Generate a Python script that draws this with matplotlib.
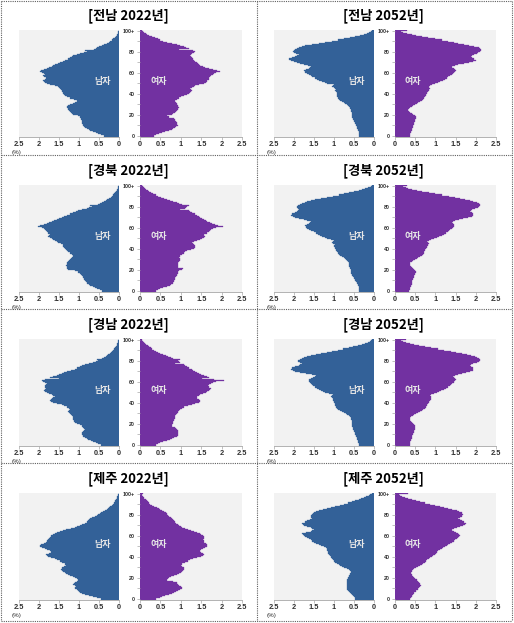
import matplotlib
matplotlib.use('Agg')
import matplotlib.pyplot as plt
from matplotlib.lines import Line2D
from matplotlib.ticker import MultipleLocator

plt.rcParams['font.family'] = ['Noto Sans CJK KR', 'DejaVu Sans']

# ---------------- data ----------------
ages = list(range(101))
regions = ['전남', '경북', '경남', '제주']
years = ['2022', '2052']
age_ticks = [0, 20, 40, 60, 80, 100]
age_tick_labels = ['0', '20', '40', '60', '80', '100+']
x_ticks = [0, 0.5, 1, 1.5, 2, 2.5]
x_tick_labels = ['0', '0.5', '1', '1.5', '2', '2.5']
male_label = '남자'
female_label = '여자'
unit_label = '(%)'

jeonnam_2022_m = [
    0.38, 0.44, 0.52, 0.58, 0.64, 0.72, 0.76, 0.80, 0.85, 0.87,
    0.89, 0.91, 0.92, 0.93, 0.92, 0.93, 0.94, 0.95, 0.97, 1.02,
    1.14, 1.17, 1.19, 1.22, 1.25, 1.27, 1.28, 1.29, 1.30, 1.27,
    1.22, 1.15, 1.10, 1.06, 1.05, 1.12, 1.22, 1.30, 1.35, 1.37,
    1.39, 1.41, 1.42, 1.43, 1.45, 1.47, 1.49, 1.52, 1.60, 1.72,
    1.80, 1.85, 1.88, 1.89, 1.86, 1.83, 1.87, 1.89, 1.86, 1.87,
    1.92, 1.97, 1.95, 1.88, 1.80, 1.74, 1.68, 1.64, 1.60, 1.53,
    1.47, 1.41, 1.35, 1.28, 1.22, 1.18, 1.14, 1.06, 0.97, 0.88,
    0.80, 0.86, 0.62, 0.58, 0.55, 0.49, 0.43, 0.37, 0.31, 0.26,
    0.22, 0.18, 0.14, 0.11, 0.08, 0.06, 0.05, 0.03, 0.02, 0.015, 0.01]
jeonnam_2022_f = [
    0.34, 0.40, 0.47, 0.53, 0.62, 0.72, 0.78, 0.82, 0.86, 0.89,
    0.92, 0.91, 0.90, 0.90, 0.88, 0.87, 0.86, 0.84, 0.72, 0.65,
    0.78, 0.82, 0.85, 0.88, 0.91, 0.94, 0.94, 0.95, 0.94, 0.92,
    0.91, 0.90, 0.88, 0.86, 0.86, 0.90, 0.95, 1.00, 1.07, 1.14,
    1.20, 1.23, 1.26, 1.27, 1.25, 1.23, 1.27, 1.32, 1.36, 1.45,
    1.57, 1.62, 1.64, 1.65, 1.68, 1.70, 1.71, 1.73, 1.78, 1.82,
    1.86, 1.96, 1.88, 1.78, 1.68, 1.60, 1.54, 1.48, 1.45, 1.42,
    1.40, 1.36, 1.32, 1.29, 1.27, 1.25, 1.23, 1.24, 1.27, 1.32,
    1.36, 1.30, 0.96, 1.20, 1.12, 1.07, 0.98, 0.90, 0.78, 0.67,
    0.57, 0.50, 0.43, 0.36, 0.29, 0.23, 0.18, 0.14, 0.11, 0.08, 0.05]
jeonnam_2052_m = [
    0.36, 0.36, 0.37, 0.37, 0.38, 0.39, 0.40, 0.41, 0.42, 0.43,
    0.44, 0.45, 0.46, 0.47, 0.49, 0.50, 0.51, 0.52, 0.54, 0.54,
    0.54, 0.55, 0.55, 0.56, 0.57, 0.58, 0.59, 0.60, 0.61, 0.64,
    0.67, 0.71, 0.75, 0.79, 0.84, 0.88, 0.90, 0.91, 0.92, 0.92,
    0.92, 0.93, 0.95, 0.96, 0.95, 0.96, 0.99, 1.04, 1.02, 1.00,
    1.17, 1.23, 1.29, 1.36, 1.42, 1.48, 1.54, 1.58, 1.62, 1.66,
    1.71, 1.73, 1.75, 1.70, 1.62, 1.60, 1.58, 1.65, 1.75, 1.84,
    1.92, 2.00, 2.08, 2.12, 2.05, 1.96, 1.92, 1.88, 1.94, 2.00,
    2.02, 2.00, 1.96, 1.92, 1.88, 1.80, 1.71, 1.55, 1.38, 1.21,
    1.04, 0.90, 0.75, 0.60, 0.46, 0.35, 0.25, 0.17, 0.11, 0.07, 0.04]
jeonnam_2052_f = [
    0.37, 0.37, 0.38, 0.39, 0.40, 0.41, 0.42, 0.43, 0.44, 0.44,
    0.45, 0.46, 0.47, 0.48, 0.49, 0.50, 0.50, 0.51, 0.51, 0.49,
    0.45, 0.41, 0.37, 0.35, 0.33, 0.33, 0.35, 0.37, 0.41, 0.45,
    0.50, 0.54, 0.58, 0.62, 0.66, 0.70, 0.72, 0.74, 0.76, 0.77,
    0.79, 0.80, 0.82, 0.83, 0.85, 0.87, 0.85, 0.83, 0.86, 0.91,
    0.99, 1.06, 1.12, 1.18, 1.24, 1.28, 1.32, 1.36, 1.40, 1.44,
    1.47, 1.49, 1.50, 1.48, 1.45, 1.42, 1.40, 1.48, 1.57, 1.70,
    1.82, 1.92, 2.00, 1.96, 1.90, 1.89, 1.90, 1.96, 2.02, 2.06,
    2.10, 2.12, 2.13, 2.11, 2.07, 1.96, 1.82, 1.70, 1.57, 1.45,
    1.32, 1.16, 0.99, 0.82, 0.66, 0.52, 0.41, 0.30, 0.21, 0.15, 0.29]
gyeongbuk_2022_m = [
    0.42, 0.48, 0.55, 0.60, 0.66, 0.72, 0.76, 0.79, 0.81, 0.83,
    0.85, 0.87, 0.88, 0.89, 0.91, 0.93, 0.95, 0.97, 1.02, 1.10,
    1.27, 1.29, 1.31, 1.31, 1.32, 1.31, 1.30, 1.29, 1.27, 1.24,
    1.22, 1.20, 1.18, 1.16, 1.14, 1.17, 1.22, 1.27, 1.31, 1.33,
    1.35, 1.37, 1.39, 1.40, 1.39, 1.45, 1.52, 1.56, 1.60, 1.64,
    1.68, 1.73, 1.77, 1.75, 1.72, 1.77, 1.81, 1.83, 1.85, 1.88,
    1.93, 2.03, 1.97, 1.88, 1.81, 1.75, 1.68, 1.62, 1.56, 1.50,
    1.43, 1.37, 1.31, 1.22, 1.14, 1.08, 1.02, 0.92, 0.81, 0.74,
    0.68, 0.72, 0.52, 0.47, 0.43, 0.38, 0.33, 0.29, 0.25, 0.21,
    0.18, 0.15, 0.12, 0.10, 0.08, 0.06, 0.04, 0.03, 0.02, 0.015, 0.01]
gyeongbuk_2022_f = [
    0.38, 0.44, 0.50, 0.57, 0.65, 0.73, 0.77, 0.80, 0.82, 0.83,
    0.84, 0.85, 0.85, 0.86, 0.88, 0.90, 0.91, 0.92, 0.94, 0.96,
    1.02, 1.05, 0.94, 0.93, 0.92, 0.92, 0.93, 0.94, 0.96, 0.97,
    0.98, 0.97, 0.96, 0.97, 0.98, 1.02, 1.07, 1.11, 1.15, 1.24,
    1.32, 1.34, 1.36, 1.34, 1.32, 1.30, 1.27, 1.33, 1.40, 1.46,
    1.52, 1.56, 1.60, 1.58, 1.57, 1.63, 1.69, 1.71, 1.73, 1.80,
    1.86, 2.04, 1.90, 1.83, 1.77, 1.71, 1.65, 1.61, 1.57, 1.52,
    1.48, 1.44, 1.40, 1.34, 1.27, 1.23, 1.19, 0.98, 1.11, 1.13,
    1.15, 1.19, 1.02, 0.96, 0.90, 0.82, 0.73, 0.66, 0.59, 0.51,
    0.44, 0.38, 0.32, 0.28, 0.23, 0.19, 0.15, 0.12, 0.10, 0.07, 0.05]
gyeongbuk_2052_m = [
    0.36, 0.36, 0.37, 0.37, 0.38, 0.39, 0.40, 0.42, 0.43, 0.45,
    0.46, 0.47, 0.49, 0.50, 0.52, 0.54, 0.55, 0.56, 0.57, 0.58,
    0.58, 0.59, 0.60, 0.61, 0.61, 0.62, 0.63, 0.63, 0.64, 0.66,
    0.69, 0.72, 0.75, 0.79, 0.84, 0.88, 0.90, 0.92, 0.94, 0.95,
    0.96, 0.98, 1.00, 0.99, 0.98, 1.01, 1.04, 1.02, 1.00, 1.08,
    1.17, 1.23, 1.29, 1.34, 1.39, 1.44, 1.50, 1.56, 1.62, 1.66,
    1.69, 1.70, 1.71, 1.66, 1.61, 1.59, 1.58, 1.66, 1.75, 1.86,
    1.96, 2.01, 2.06, 2.04, 1.98, 1.92, 1.89, 1.86, 1.89, 1.92,
    1.91, 1.90, 1.85, 1.79, 1.73, 1.67, 1.57, 1.46, 1.32, 1.17,
    1.02, 0.88, 0.75, 0.62, 0.50, 0.38, 0.29, 0.21, 0.14, 0.08, 0.04]
gyeongbuk_2052_f = [
    0.35, 0.36, 0.37, 0.38, 0.39, 0.40, 0.41, 0.41, 0.42, 0.43,
    0.43, 0.44, 0.45, 0.46, 0.47, 0.48, 0.49, 0.50, 0.51, 0.50,
    0.48, 0.45, 0.41, 0.39, 0.38, 0.37, 0.37, 0.38, 0.41, 0.45,
    0.50, 0.54, 0.58, 0.62, 0.66, 0.70, 0.72, 0.73, 0.74, 0.75,
    0.76, 0.78, 0.79, 0.81, 0.82, 0.83, 0.81, 0.79, 0.84, 0.89,
    0.96, 1.03, 1.10, 1.16, 1.21, 1.26, 1.30, 1.34, 1.37, 1.40,
    1.43, 1.45, 1.46, 1.45, 1.43, 1.40, 1.44, 1.49, 1.58, 1.69,
    1.80, 1.90, 1.93, 1.94, 1.90, 1.86, 1.87, 1.90, 1.97, 2.05,
    2.08, 2.10, 2.10, 2.08, 2.02, 1.94, 1.85, 1.74, 1.62, 1.49,
    1.33, 1.16, 1.00, 0.83, 0.68, 0.54, 0.43, 0.33, 0.26, 0.21, 0.29]
gyeongnam_2022_m = [
    0.46, 0.52, 0.58, 0.64, 0.70, 0.77, 0.81, 0.85, 0.89, 0.91,
    0.93, 0.93, 0.93, 0.90, 0.87, 0.85, 0.88, 0.90, 0.93, 0.98,
    1.06, 1.09, 1.12, 1.13, 1.14, 1.14, 1.15, 1.16, 1.18, 1.20,
    1.22, 1.24, 1.27, 1.25, 1.22, 1.26, 1.31, 1.37, 1.43, 1.54,
    1.64, 1.69, 1.72, 1.70, 1.68, 1.64, 1.60, 1.64, 1.68, 1.75,
    1.81, 1.84, 1.87, 1.85, 1.83, 1.84, 1.85, 1.83, 1.81, 1.85,
    1.89, 1.93, 1.85, 1.50, 1.72, 1.64, 1.56, 1.50, 1.43, 1.37,
    1.31, 1.20, 1.10, 1.04, 0.98, 0.92, 0.85, 0.75, 0.64, 0.58,
    0.52, 0.56, 0.42, 0.38, 0.33, 0.30, 0.27, 0.23, 0.20, 0.17,
    0.14, 0.12, 0.10, 0.08, 0.06, 0.05, 0.04, 0.03, 0.02, 0.015, 0.01]
gyeongnam_2022_f = [
    0.38, 0.44, 0.50, 0.57, 0.65, 0.73, 0.79, 0.84, 0.90, 0.92,
    0.94, 0.94, 0.94, 0.93, 0.92, 0.90, 0.88, 0.85, 0.78, 0.79,
    0.82, 0.82, 0.82, 0.83, 0.84, 0.86, 0.86, 0.86, 0.86, 0.88,
    0.90, 0.92, 0.94, 0.96, 0.98, 1.02, 1.07, 1.17, 1.27, 1.36,
    1.44, 1.46, 1.48, 1.44, 1.40, 1.40, 1.40, 1.44, 1.48, 1.55,
    1.61, 1.65, 1.69, 1.71, 1.73, 1.70, 1.67, 1.70, 1.73, 1.80,
    1.86, 2.07, 1.82, 1.52, 1.69, 1.63, 1.57, 1.50, 1.44, 1.40,
    1.36, 1.31, 1.27, 1.21, 1.15, 1.11, 1.07, 0.86, 0.98, 0.96,
    0.94, 0.97, 0.82, 0.75, 0.69, 0.63, 0.57, 0.50, 0.44, 0.39,
    0.34, 0.30, 0.26, 0.23, 0.19, 0.15, 0.12, 0.10, 0.08, 0.06, 0.04]
gyeongnam_2052_m = [
    0.38, 0.38, 0.39, 0.39, 0.40, 0.41, 0.42, 0.43, 0.44, 0.45,
    0.46, 0.47, 0.48, 0.49, 0.50, 0.51, 0.52, 0.53, 0.54, 0.54,
    0.54, 0.54, 0.55, 0.55, 0.56, 0.57, 0.58, 0.60, 0.62, 0.66,
    0.70, 0.75, 0.80, 0.85, 0.90, 0.93, 0.95, 0.96, 0.97, 0.98,
    0.99, 1.00, 1.02, 1.03, 1.02, 1.04, 1.07, 1.05, 1.03, 1.12,
    1.22, 1.28, 1.33, 1.38, 1.43, 1.47, 1.51, 1.55, 1.58, 1.60,
    1.62, 1.63, 1.62, 1.58, 1.52, 1.48, 1.45, 1.55, 1.70, 1.85,
    1.96, 2.02, 2.06, 2.04, 1.96, 1.88, 1.84, 1.80, 1.85, 1.90,
    1.89, 1.85, 1.80, 1.74, 1.66, 1.56, 1.45, 1.32, 1.18, 1.04,
    0.90, 0.76, 0.63, 0.51, 0.40, 0.30, 0.22, 0.15, 0.10, 0.06, 0.04]
gyeongnam_2052_f = [
    0.36, 0.37, 0.37, 0.38, 0.39, 0.40, 0.41, 0.42, 0.42, 0.43,
    0.44, 0.45, 0.46, 0.47, 0.48, 0.49, 0.50, 0.50, 0.50, 0.48,
    0.45, 0.42, 0.39, 0.37, 0.36, 0.36, 0.37, 0.40, 0.44, 0.48,
    0.53, 0.58, 0.62, 0.66, 0.70, 0.74, 0.77, 0.79, 0.80, 0.82,
    0.83, 0.85, 0.86, 0.88, 0.89, 0.90, 0.88, 0.86, 0.90, 0.96,
    1.03, 1.09, 1.15, 1.21, 1.26, 1.31, 1.35, 1.39, 1.42, 1.45,
    1.47, 1.49, 1.50, 1.49, 1.46, 1.44, 1.48, 1.55, 1.65, 1.76,
    1.86, 1.92, 1.94, 1.92, 1.88, 1.86, 1.88, 1.94, 2.02, 2.08,
    2.10, 2.10, 2.08, 2.04, 1.97, 1.88, 1.77, 1.65, 1.52, 1.38,
    1.22, 1.06, 0.90, 0.74, 0.60, 0.47, 0.36, 0.27, 0.20, 0.15, 0.26]
jeju_2022_m = [
    0.46, 0.56, 0.66, 0.74, 0.84, 0.93, 0.97, 1.00, 1.02, 1.06,
    1.10, 1.09, 1.07, 1.11, 1.15, 1.12, 1.10, 1.06, 1.02, 1.05,
    1.10, 1.16, 1.23, 1.28, 1.32, 1.36, 1.40, 1.42, 1.44, 1.43,
    1.42, 1.37, 1.32, 1.34, 1.36, 1.42, 1.48, 1.55, 1.61, 1.70,
    1.78, 1.81, 1.82, 1.75, 1.69, 1.71, 1.73, 1.80, 1.86, 1.92,
    1.98, 1.97, 1.94, 1.88, 1.82, 1.80, 1.78, 1.75, 1.73, 1.71,
    1.69, 1.65, 1.61, 1.55, 1.48, 1.40, 1.32, 1.21, 1.10, 1.04,
    0.98, 0.92, 0.86, 0.81, 0.77, 0.75, 0.73, 0.67, 0.61, 0.56,
    0.52, 0.48, 0.44, 0.40, 0.36, 0.31, 0.27, 0.24, 0.22, 0.18,
    0.15, 0.13, 0.11, 0.09, 0.07, 0.06, 0.05, 0.04, 0.03, 0.02, 0.01]
jeju_2022_f = [
    0.40, 0.48, 0.55, 0.62, 0.70, 0.79, 0.84, 0.88, 0.92, 0.98,
    1.04, 1.02, 1.00, 0.96, 0.92, 0.91, 0.90, 0.80, 0.67, 0.69,
    0.71, 0.77, 0.83, 0.90, 0.96, 1.00, 1.04, 1.06, 1.08, 1.08,
    1.07, 1.03, 1.00, 1.02, 1.04, 1.10, 1.17, 1.23, 1.29, 1.40,
    1.50, 1.55, 1.58, 1.54, 1.50, 1.48, 1.46, 1.50, 1.54, 1.59,
    1.63, 1.64, 1.65, 1.62, 1.58, 1.56, 1.54, 1.56, 1.58, 1.56,
    1.54, 1.50, 1.46, 1.40, 1.33, 1.25, 1.17, 1.10, 1.04, 1.00,
    0.96, 0.92, 0.88, 0.85, 0.83, 0.81, 0.79, 0.75, 0.71, 0.69,
    0.67, 0.65, 0.63, 0.58, 0.54, 0.50, 0.46, 0.41, 0.35, 0.30,
    0.25, 0.22, 0.19, 0.17, 0.14, 0.11, 0.09, 0.07, 0.06, 0.05, 0.07]
jeju_2052_m = [
    0.46, 0.48, 0.50, 0.53, 0.55, 0.58, 0.60, 0.62, 0.64, 0.66,
    0.67, 0.68, 0.68, 0.68, 0.68, 0.68, 0.67, 0.67, 0.66, 0.65,
    0.65, 0.63, 0.61, 0.60, 0.59, 0.58, 0.58, 0.60, 0.63, 0.68,
    0.75, 0.80, 0.84, 0.88, 0.92, 0.96, 0.99, 1.01, 1.04, 1.06,
    1.08, 1.10, 1.13, 1.14, 1.15, 1.15, 1.16, 1.17, 1.17, 1.20,
    1.25, 1.31, 1.38, 1.44, 1.50, 1.54, 1.58, 1.62, 1.67, 1.71,
    1.75, 1.77, 1.79, 1.70, 1.58, 1.54, 1.50, 1.54, 1.58, 1.67,
    1.75, 1.77, 1.79, 1.73, 1.67, 1.60, 1.54, 1.56, 1.58, 1.56,
    1.54, 1.52, 1.50, 1.44, 1.38, 1.28, 1.17, 1.06, 0.96, 0.85,
    0.75, 0.64, 0.54, 0.46, 0.38, 0.31, 0.25, 0.19, 0.13, 0.09, 0.05]
jeju_2052_f = [
    0.37, 0.39, 0.41, 0.42, 0.44, 0.46, 0.48, 0.51, 0.53, 0.56,
    0.58, 0.60, 0.62, 0.64, 0.63, 0.62, 0.60, 0.58, 0.54, 0.50,
    0.46, 0.44, 0.42, 0.41, 0.40, 0.40, 0.41, 0.42, 0.44, 0.48,
    0.52, 0.57, 0.62, 0.66, 0.70, 0.74, 0.77, 0.80, 0.83, 0.87,
    0.91, 0.95, 0.99, 1.01, 1.03, 1.05, 1.07, 1.11, 1.16, 1.20,
    1.24, 1.28, 1.32, 1.36, 1.40, 1.45, 1.49, 1.53, 1.57, 1.59,
    1.61, 1.59, 1.57, 1.51, 1.45, 1.42, 1.40, 1.46, 1.53, 1.61,
    1.69, 1.73, 1.76, 1.70, 1.65, 1.61, 1.57, 1.61, 1.65, 1.67,
    1.69, 1.67, 1.65, 1.59, 1.53, 1.42, 1.32, 1.22, 1.12, 1.00,
    0.87, 0.74, 0.62, 0.51, 0.41, 0.33, 0.25, 0.18, 0.12, 0.09, 0.33]

panels = [
    [(jeonnam_2022_m, jeonnam_2022_f), (jeonnam_2052_m, jeonnam_2052_f)],
    [(gyeongbuk_2022_m, gyeongbuk_2022_f), (gyeongbuk_2052_m, gyeongbuk_2052_f)],
    [(gyeongnam_2022_m, gyeongnam_2022_f), (gyeongnam_2052_m, gyeongnam_2052_f)],
    [(jeju_2022_m, jeju_2022_f), (jeju_2052_m, jeju_2052_f)],
]

# ---------------- style ----------------
W, H = 514, 623
MALE = '#336198'
FEMALE = '#7231a1'
BG = '#f2f2f2'
AXIS_GRAY = '#a6a6a6'
NUMFONT = ['Liberation Sans', 'DejaVu Sans']

fig = plt.figure(figsize=(W / 100, H / 100), dpi=100)
fig.patch.set_facecolor('white')


def rect(x0, y0, x1, y1):
    return [x0 / W, 1 - y1 / H, (x1 - x0) / W, (y1 - y0) / H]


row_y = [0, 155, 309, 463]
col_x = [0, 257]
geo = [
    dict(m0=19, m1=119, f0=140, f1=242, title=128, note=17),
    dict(m0=16.7, m1=116.7, f0=138, f1=239, title=126.7, note=15),
]
ax_top, ax_bot = 30, 136.5

for r in range(4):
    for c in range(2):
        ox, oy = col_x[c], row_y[r]
        g = geo[c]
        male, female = panels[r][c]

        fig.text((ox + g['title']) / W, 1 - (oy + 16) / H,
                 f'[{regions[r]} {years[c]}년]', ha='center', va='center',
                 fontsize=9.5, fontweight='bold', color='black')

        axm = fig.add_axes(rect(ox + g['m0'], oy + ax_top, ox + g['m1'], oy + ax_bot))
        axf = fig.add_axes(rect(ox + g['f0'], oy + ax_top, ox + g['f1'], oy + ax_bot))

        for ax, vals, col in ((axm, male, MALE), (axf, female, FEMALE)):
            ax.set_facecolor(BG)
            ax.barh(ages, vals, height=1.0, color=col, edgecolor=col, linewidth=0.2)
            ax.set_ylim(-0.5, 100.5)
            for s in ('top', 'right', 'left'):
                ax.spines[s].set_visible(False)
            ax.spines['bottom'].set_color(AXIS_GRAY)
            ax.spines['bottom'].set_linewidth(0.6)
            ax.set_xticks(x_ticks)
            ax.set_xticklabels(x_tick_labels, family=NUMFONT, fontweight='bold')
            ax.tick_params(axis='x', length=2, width=0.5, color=AXIS_GRAY,
                           labelsize=5.3, pad=1.2, labelcolor='#303030')

        axm.set_xlim(2.5, 0)
        axf.set_xlim(0, 2.5)
        axm.set_yticks([])

        axf.set_yticks(age_ticks)
        axf.set_yticklabels(age_tick_labels, family=NUMFONT, fontweight='bold')
        axf.yaxis.set_minor_locator(MultipleLocator(10))
        axf.tick_params(axis='y', which='both', length=2.5, width=0.5,
                        color=AXIS_GRAY, labelsize=3.8, pad=1.0, labelcolor='#303030')

        axm.text(0.42, 52, male_label, ha='center', va='center', fontsize=6.5,
                 fontweight='bold', color='#e6e6e6')
        axf.text(0.45, 52, female_label, ha='center', va='center', fontsize=6.5,
                 fontweight='bold', color='#e6e6e6')

        fig.text((ox + g['note']) / W, 1 - (oy + 152.5) / H, unit_label,
                 ha='center', va='center', fontsize=4.5, color='#303030',
                 family=NUMFONT)


def fline(x0, y0, x1, y1):
    fig.add_artist(Line2D([x0 / W, x1 / W], [1 - y0 / H, 1 - y1 / H],
                          transform=fig.transFigure, color='#606060',
                          linewidth=0.8, linestyle=(0, (1, 1))))


fline(1, 1, 512, 1)
fline(1, 621, 512, 621)
fline(1, 1, 1, 621)
fline(512, 1, 512, 621)
fline(257, 1, 257, 621)
for y in row_y[1:]:
    fline(1, y, 512, y)

fig.savefig('out.png', dpi=100)
